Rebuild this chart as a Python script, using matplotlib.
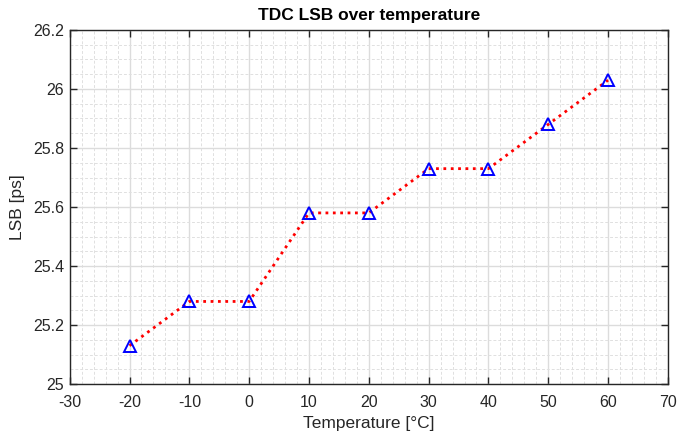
import matplotlib
matplotlib.use("Agg")
import matplotlib.pyplot as plt
from matplotlib.ticker import MultipleLocator

temperature = [-20, -10, 0, 10, 20, 30, 40, 50, 60]
lsb_ps = [25.13, 25.28, 25.28, 25.58, 25.58, 25.73, 25.73, 25.88, 26.03]
xticks = [-30, -20, -10, 0, 10, 20, 30, 40, 50, 60, 70]
yticks = [25, 25.2, 25.4, 25.6, 25.8, 26, 26.2]
ytick_labels = ["25", "25.2", "25.4", "25.6", "25.8", "26", "26.2"]

plt.rcParams['font.family'] = ['Liberation Sans', 'DejaVu Sans']
plt.rcParams['axes.unicode_minus'] = False
tc = '#262626'

fig = plt.figure(figsize=(6.9, 4.34), dpi=100)
ax = fig.add_axes([0.101, 0.115, 0.867, 0.816])

ax.plot(temperature, lsb_ps, color='red', linestyle=':', linewidth=2,
        marker='^', markersize=8.5, markerfacecolor='none',
        markeredgecolor='blue', markeredgewidth=1.4, zorder=3)

ax.set_xlim(-30, 70)
ax.set_ylim(25, 26.2)
ax.set_xticks(xticks)
ax.set_yticks(yticks)
ax.set_yticklabels(ytick_labels)
ax.xaxis.set_minor_locator(MultipleLocator(2))
ax.yaxis.set_minor_locator(MultipleLocator(0.05))

ax.grid(which='major', color='#dcdcdc', linewidth=1.0, zorder=0)
ax.grid(which='minor', color='#e0e0e0', linewidth=0.7, linestyle=(0, (3, 2)), zorder=0)
ax.set_axisbelow(True)

ax.tick_params(which='major', direction='in', length=5, width=1, colors=tc,
               labelsize=11.5, top=True, right=True)
ax.tick_params(axis='x', which='major', pad=8)
ax.tick_params(axis='y', which='major', pad=4)
ax.tick_params(which='minor', length=0)
for s in ax.spines.values():
    s.set_color(tc)
    s.set_linewidth(1)

ax.set_xlabel('Temperature [°C]', fontsize=12.5, color=tc, labelpad=4)
ax.set_ylabel('LSB [ps]', fontsize=12.5, color=tc, labelpad=6)
ax.set_title('TDC LSB over temperature', fontsize=12.5, fontweight='bold', color='black', pad=7)

fig.savefig('out.png', dpi=100)
